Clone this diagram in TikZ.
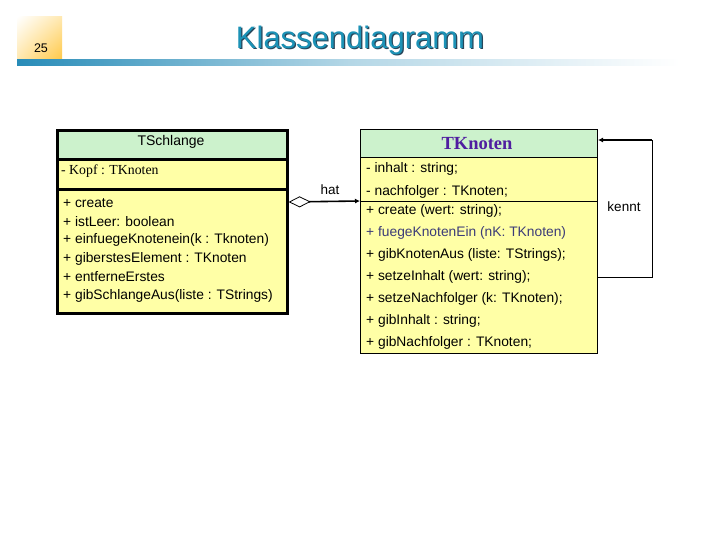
\documentclass[tikz,border=0pt]{standalone}
\usepackage{fontspec}
\setmainfont{Liberation Sans}
\newfontfamily\seriffont{Liberation Serif}
\usetikzlibrary{arrows.meta,shadings}
\definecolor{hdrgreen}{RGB}{204,242,204}
\definecolor{boxyellow}{RGB}{255,255,166}
\definecolor{titleteal}{RGB}{28,146,182}
\definecolor{titleshadow}{RGB}{40,70,90}
\definecolor{purpletxt}{RGB}{80,30,160}
\definecolor{slatetxt}{RGB}{60,60,120}
\definecolor{barteal}{RGB}{40,140,184}
\definecolor{orangecorner}{RGB}{255,200,70}
\definecolor{orangemid}{RGB}{255,232,175}
\tikzset{
  txt/.style={anchor=west,inner sep=0pt,font=\fontsize{13.8}{15}\selectfont},
  sertxt/.style={anchor=west,inner sep=0pt,font=\seriffont\fontsize{13.8}{15}\selectfont},
  thickbox/.style={draw=black,line width=2.6pt,anchor=north west,inner sep=0pt},
  thinbox/.style={draw=black,line width=1pt,anchor=north west,inner sep=0pt},
  conn/.style={line width=1.6pt},
  lbl/.style={inner sep=0pt,font=\fontsize{13.5}{15}\selectfont}
}
\begin{document}
\begin{tikzpicture}[x=1pt,y=-1pt]
\useasboundingbox[fill=white] (0,0) rectangle (720,540);
% header decoration
\shade[upper left=white,upper right=orangemid,lower left=orangemid,lower right=orangecorner] (17,17) rectangle (62,60);
\node[inner sep=0pt,font=\fontsize{12.5}{14}\selectfont] (pagenum) at (41,48) {25};
\shade[left color=barteal,right color=white,middle color=barteal!35] (17,60) rectangle (680,66);
\node[inner sep=0pt,font=\fontsize{31}{34}\selectfont,text=titleshadow] (titleshadow) at (361.2,41.2) {Klassendiagramm};
\node[inner sep=0pt,font=\fontsize{31}{34}\selectfont,text=titleteal] (title) at (360,40) {Klassendiagramm};
% TSchlange
\node[thickbox,fill=hdrgreen,minimum width=230pt,minimum height=29pt] (shead) at (56,129) {};
\node[thickbox,fill=boxyellow,minimum width=230pt,minimum height=30pt] (sattr) at (56,158) {};
\node[thickbox,fill=boxyellow,minimum width=230pt,minimum height=124pt] (sops) at (56,188) {};
\node[inner sep=0pt,font=\fontsize{14}{16}\selectfont] (sname) at (171,142) {TSchlange};
\node[sertxt] (sa1) at (61,171) {- Kopf : TKnoten};
\node[txt] (so1) at (63,203) {+ create};
\node[txt] (so2) at (63,221.5) {+ istLeer: boolean};
\node[txt] (so3) at (63,240) {+ einfuegeKnotenein(k : Tknoten)};
\node[txt] (so4) at (63,258.5) {+ giberstesElement : TKnoten};
\node[txt] (so5) at (63,277) {+ entferneErstes};
\node[txt] (so6) at (63,295.5) {+ gibSchlangeAus(liste : TStrings)};
% TKnoten
\node[thinbox,fill=hdrgreen,minimum width=237pt,minimum height=28pt] (khead) at (360,129) {};
\node[thinbox,fill=boxyellow,minimum width=237pt,minimum height=44pt] (kattr) at (360,157) {};
\node[thinbox,fill=boxyellow,minimum width=237pt,minimum height=152pt] (kops) at (360,201) {};
\node[inner sep=0pt,font=\seriffont\bfseries\fontsize{18.5}{20}\selectfont,text=purpletxt] (kname) at (477,144) {TKnoten};
\node[txt] (ka1) at (366,169) {- inhalt : string;};
\node[txt] (ka2) at (366,191.5) {- nachfolger : TKnoten;};
\node[txt] (ko1) at (366,211) {+ create (wert: string);};
\node[txt,text=slatetxt] (ko2) at (366,233) {+ fuegeKnotenEin (nK: TKnoten)};
\node[txt] (ko3) at (366,255) {+ gibKnotenAus (liste: TStrings);};
\node[txt] (ko4) at (366,277) {+ setzeInhalt (wert: string);};
\node[txt] (ko5) at (366,298.5) {+ setzeNachfolger (k: TKnoten);};
\node[txt] (ko6) at (366,320.5) {+ gibInhalt : string;};
\node[txt] (ko7) at (366,342.5) {+ gibNachfolger : TKnoten;};
% hat association
\coordinate (hatstart) at (sops.east |- 0,202);
\coordinate (hatend) at (kops.north west);
\draw[conn,{Diamond[open,length=22pt,width=11pt,line width=0.8pt]}-{Latex[length=5pt,width=5pt]}] (hatstart) -- (hatend);
\node[lbl] (hatlbl) at (330,190) {hat};
% kennt self association
\coordinate (kin) at (khead.east |- 0,140);
\coordinate (kout) at (kops.east |- 0,277);
\coordinate (kc1) at (652,140);
\coordinate (kc2) at (652,277);
\draw[line width=1pt] (kout) -- (kc2) -- (kc1);
\draw[line width=1.6pt,-{Latex[length=5pt,width=5pt]}] (kc1) -- (kin);
\node[lbl] (kennt) at (624,207) {kennt};
\end{tikzpicture}
\end{document}
